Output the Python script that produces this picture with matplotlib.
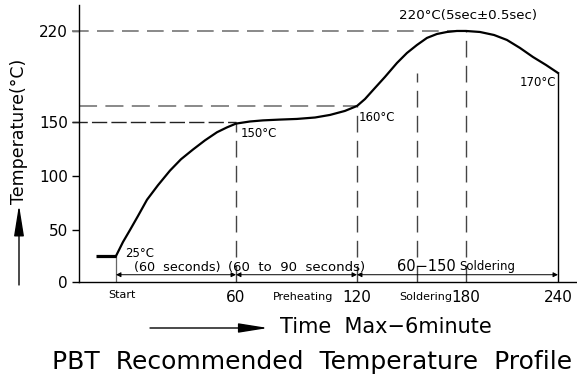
import numpy as np
import matplotlib
matplotlib.use("Agg")
import matplotlib.pyplot as plt
from matplotlib.transforms import ScaledTranslation

plt.rcParams['font.family'] = ['DejaVu Sans']
plt.rcParams['lines.scale_dashes'] = False

# reflow profile (time in s, temperature in C)
time = [0, 3.5, 7, 11, 15.5, 21, 27, 32.5, 38.5, 44.5, 50.5, 55.5, 60,
        66.9, 73.4, 81.8, 90.2, 99.2, 106.6, 114, 120,
        124.4, 128.8, 135.4, 142, 147.5, 153, 158.5, 164, 169.5, 175, 180,
        189.1, 198.3, 206.7, 215.2, 223.7, 232.2, 240]
temp = [25, 38.5, 50, 63, 78, 91.5, 105, 115.5, 124.5, 133, 140.5, 145, 148.5,
        150.3, 151, 151.5, 151.9, 152.8, 154.4, 156.9, 160,
        162.1, 164.8, 168.8, 181.9, 193.8, 203.3, 211.7, 216.4, 218.8, 220, 220,
        218.8, 215.2, 209.3, 199.8, 189, 179.5, 170]
pre_time = [-10, 0]
pre_temp = [25, 25]

y_ticks = [0, 50, 100, 150, 220]
x_ticks = [0, 60, 120, 180, 240]
x_labels = ["Start", "60", "120", "180", "240"]
solder_start = 153

# the drawing is not to scale: piecewise axis mapping
x_anchor = [-60, 0, 60, 120, 180, 240, 300]
x_pos = [-120, 0, 120, 241, 350, 442, 534]
y_anchor = [-100, 0, 50, 100, 150, 160, 170, 220, 300]
y_pos = [-104, 0, 52, 106, 160, 176, 209, 251, 318]

def fx(v):
    return np.interp(v, x_anchor, x_pos)

def ix(v):
    return np.interp(v, x_pos, x_anchor)

def fy(v):
    return np.interp(v, y_anchor, y_pos)

def iy(v):
    return np.interp(v, y_pos, y_anchor)

fig = plt.figure(figsize=(5.77, 3.79), dpi=100)
ax = fig.add_axes([79/577, 1-282/379, 1-79/577, (282-5)/379])
ax.set_xscale('function', functions=(fx, ix))
ax.set_yscale('function', functions=(fy, iy))
ax.set_xlim(-18.5, 252.4)
ax.set_ylim(0, 251)

for s in ['top', 'right']:
    ax.spines[s].set_visible(False)
ax.spines['left'].set_linewidth(1.0)
ax.spines['bottom'].set_linewidth(1.0)

# guide lines
gray = '#808080'
ax.plot([-22, 180], [220, 220], color=gray, lw=1.3, dashes=(12, 6), clip_on=False)
ax.plot([-18.5, 120], [160, 160], color=gray, lw=1.3, dashes=(13, 6), clip_on=False)
ax.plot([-22, 60], [150, 150], color='#222222', lw=1.0, dashes=(11, 3), clip_on=False)
ax.plot([60, 60], [0, 150], color='#444444', lw=1.0, dashes=(12, 6))
ax.plot([120, 120], [0, 160], color='#444444', lw=1.0, dashes=(12, 6))
ax.plot([solder_start, solder_start], [0, 170], color='#444444', lw=1.0, dashes=(12, 6))
ax.plot([180, 180], [0, 220], color='#444444', lw=1.0, dashes=(12, 6))
ax.plot([240, 240], [0, 170], color='black', lw=1.0)
ax.plot([0, 0], [0, 25], color='#666666', lw=0.9)

# curve
ax.plot(pre_time, pre_temp, color='black', lw=2.3, solid_capstyle='butt')
ax.plot(time, temp, color='black', lw=1.6, solid_joinstyle='round')

# dimension arrows
for a, b in [(0, 60), (60, 120), (120, 240)]:
    ax.annotate('', xy=(b, 7), xytext=(a, 7),
                arrowprops=dict(arrowstyle='<|-|>', color='black', lw=0.7,
                                mutation_scale=7, shrinkA=0, shrinkB=0))

ax.text(4.5, 27, "25°C", fontsize=8.5, va='center', ha='left')
ax.text(30.5, 14, "(60  seconds)", fontsize=9.2, va='center', ha='center')
ax.text(90, 14, "(60  to  90  seconds)", fontsize=9.5, va='center', ha='center')
ax.text(142, 15, "60−150", fontsize=10.5, va='center', ha='left')
ax.text(176.5, 15, "Soldering", fontsize=8.5, va='center', ha='left')

ax.text(62.5, 139, "150°C", fontsize=8.5, va='center', ha='left')
ax.text(121, 152.5, "160°C", fontsize=8.5, va='center', ha='left')
ax.text(238.5, 167, "170°C", fontsize=8.5, va='center', ha='right')
ax.text(181, 239, "220°C(5sec±0.5sec)", fontsize=9.6, va='center', ha='center',
        clip_on=False)

# ticks
ax.set_yticks(y_ticks)
ax.set_yticklabels([str(v) for v in y_ticks], fontsize=11)
ax.tick_params(axis='y', direction='out', length=5, width=1.0, pad=3)
ax.set_xticks(x_ticks)
ax.set_xticklabels(x_labels, fontsize=11)
ax.tick_params(axis='x', length=0, pad=6)
start_lbl = ax.get_xticklabels()[0]
start_lbl.set_fontsize(8)
start_lbl.set_transform(start_lbl.get_transform() + ScaledTranslation(6/100, 0, fig.dpi_scale_trans))
ax.yaxis.set_minor_locator(matplotlib.ticker.NullLocator())
ax.xaxis.set_minor_locator(matplotlib.ticker.NullLocator())

ax.text(108, -14, "Preheating", fontsize=8, ha='right', va='center', clip_on=False)
ax.text(172.5, -14, "Soldering", fontsize=8, ha='right', va='center', clip_on=False)

# axis captions in figure coordinates
fig.text(19/577, 1-131/379, "Temperature(°C)", rotation=90, fontsize=12.5,
         ha='center', va='center')
fig.add_artist(matplotlib.patches.FancyArrowPatch(
    (19/577, 1-285/379), (19/577, 1-205/379), transform=fig.transFigure,
    arrowstyle='-|>,head_length=1.0,head_width=0.16', mutation_scale=19,
    color='black', lw=1.0, shrinkA=0, shrinkB=0))
fig.add_artist(matplotlib.patches.FancyArrowPatch(
    (150/577, 1-328/379), (268/577, 1-328/379), transform=fig.transFigure,
    arrowstyle='-|>,head_length=1.0,head_width=0.16', mutation_scale=18,
    color='black', lw=1.0, shrinkA=0, shrinkB=0))
fig.text(280/577, 1-327/379, "Time  Max−6minute", fontsize=15, ha='left', va='center')
fig.text(312/577, 1-362/379, "PBT  Recommended  Temperature  Profile", fontsize=18,
         ha='center', va='center')

fig.savefig("out.png", dpi=100)
